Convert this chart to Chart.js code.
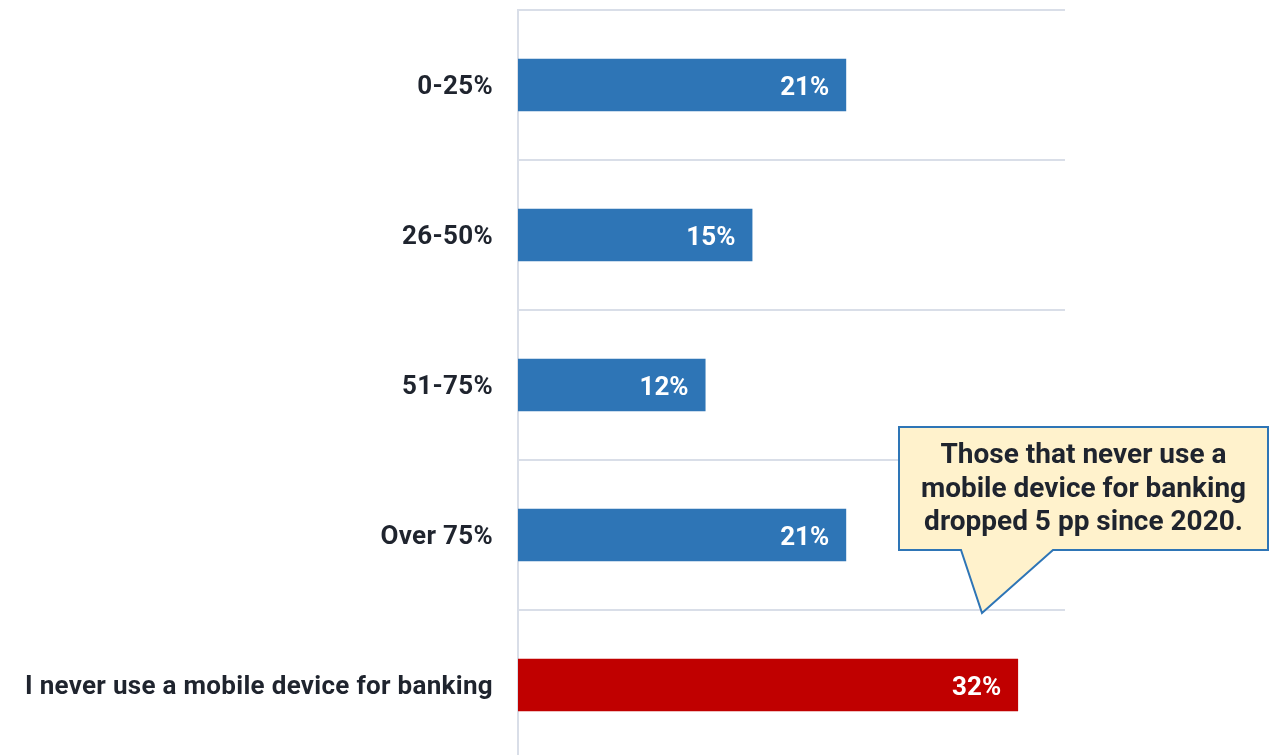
<!DOCTYPE html>
<html lang="en">
<head>
    <meta charset="UTF-8">
    <title>Mobile banking share</title>
    <script src="https://cdn.jsdelivr.net/npm/chart.js"></script>
    <style>
        html, body { margin: 0; padding: 0; background: #fff; overflow: hidden; }
        #wrap { width: 1273px; height: 760px; }
    </style>
</head>
<body>
    <div id="wrap">
        <canvas id="usageChart" width="1273" height="760"></canvas>
    </div>

    <script>
        // Share of banking done on a mobile device
        const categories = ['0-25%', '26-50%', '51-75%', 'Over 75%', 'I never use a mobile device for banking'];
        const shares = [21, 15, 12, 21, 32];
        const barColors = ['#2E75B6', '#2E75B6', '#2E75B6', '#2E75B6', '#C00000'];
        const calloutLines = ['Those that never use a', 'mobile device for banking', 'dropped 5 pp since 2020.'];

        const FONT = 'Roboto, "Noto Sans", Arial, sans-serif';
        const TEXT = '#1F242E';
        const GRID = '#D9DEE8';

        // slightly looser tracking for the axis labels
        const tracking = {
            id: 'tracking',
            beforeDraw(chart) {
                chart.ctx.letterSpacing = '0.3px';
            }
        };

        // white value labels inside the end of each bar
        const valueLabels = {
            id: 'valueLabels',
            afterDatasetsDraw(chart) {
                const ctx = chart.ctx;
                const meta = chart.getDatasetMeta(0);
                ctx.save();
                ctx.letterSpacing = '0px';
                ctx.font = 'bold 26px ' + FONT;
                ctx.fillStyle = '#FFFFFF';
                ctx.textAlign = 'right';
                ctx.textBaseline = 'middle';
                meta.data.forEach((bar, i) => {
                    ctx.fillText(shares[i] + '%', bar.x - 17, bar.y + 3);
                });
                ctx.restore();
            }
        };

        // speech-bubble note pointing at the last gridline
        const callout = {
            id: 'callout',
            afterDraw(chart) {
                const ctx = chart.ctx;
                const left = 899, right = 1268, top = 427, bottom = 550;
                ctx.save();
                ctx.letterSpacing = '0px';
                ctx.beginPath();
                ctx.moveTo(left, top);
                ctx.lineTo(right, top);
                ctx.lineTo(right, bottom);
                ctx.lineTo(1053, bottom);
                ctx.lineTo(982, 613);
                ctx.lineTo(961, bottom);
                ctx.lineTo(left, bottom);
                ctx.closePath();
                ctx.fillStyle = '#FFF2CC';
                ctx.fill();
                ctx.lineWidth = 2;
                ctx.strokeStyle = '#2E75B6';
                ctx.stroke();

                ctx.font = 'bold 28px ' + FONT;
                ctx.fillStyle = TEXT;
                ctx.textAlign = 'center';
                ctx.textBaseline = 'middle';
                calloutLines.forEach((line, i) => {
                    ctx.fillText(line, (left + right) / 2, 456 + i * 33.5);
                });
                ctx.restore();
            }
        };

        const ctx = document.getElementById('usageChart').getContext('2d');
        new Chart(ctx, {
            type: 'bar',
            data: {
                labels: categories,
                datasets: [{
                    data: shares,
                    backgroundColor: barColors,
                    borderWidth: 0,
                    categoryPercentage: 1,
                    barPercentage: 0.35
                }]
            },
            options: {
                indexAxis: 'y',
                responsive: false,
                animation: false,
                layout: {
                    padding: { top: 10, right: 208, bottom: 0, left: 0 }
                },
                scales: {
                    x: {
                        min: 0,
                        max: 35,
                        display: false
                    },
                    y: {
                        afterFit(scale) {
                            scale.width = 518;
                            scale.paddingTop = 0;
                            scale.paddingBottom = 0;
                        },
                        grid: {
                            color: GRID,
                            lineWidth: 2,
                            drawTicks: false
                        },
                        border: {
                            display: true,
                            color: GRID,
                            width: 2
                        },
                        ticks: {
                            padding: 25,
                            labelOffset: 2,
                            color: TEXT,
                            font: { family: FONT, size: 26, weight: 'bold' }
                        }
                    }
                },
                plugins: {
                    legend: { display: false },
                    tooltip: { enabled: false }
                }
            },
            plugins: [tracking, valueLabels, callout]
        });
    </script>
</body>
</html>
